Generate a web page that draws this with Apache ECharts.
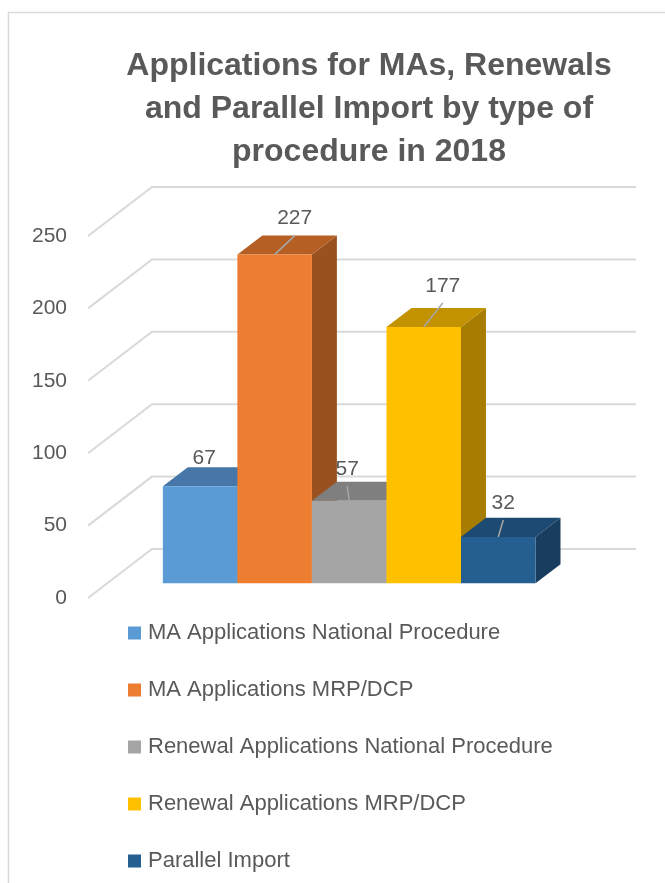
<!DOCTYPE html>
<html>
<head>
<meta charset="utf-8">
<script src="https://cdn.jsdelivr.net/npm/echarts@6/dist/echarts.min.js"></script>
<style>
  html, body { margin: 0; padding: 0; background: #fff; }
  #chart { width: 665px; height: 883px; }
</style>
</head>
<body>
<div id="chart"></div>
<script>
// data
const seriesNames = [
  'MA Applications National Procedure',
  'MA Applications MRP/DCP',
  'Renewal Applications National Procedure',
  'Renewal Applications MRP/DCP',
  'Parallel Import'
];
const values = [67, 227, 57, 177, 32];
const yTicks = [0, 50, 100, 150, 200, 250];
const yearLabel = ['2018'];

// look
const faceColors = ['#5b9bd5', '#ed7d31', '#a5a5a5', '#ffc000', '#255e91'];
const topColors = ['#4677a8', '#b65f25', '#7f7f7f', '#c29200', '#1d4a72'];
const sideColors = ['#3d6894', '#9a5120', '#6b6b6b', '#a67d00', '#183d5e'];
// where Excel left each data label, relative to the bar's front top centre
const labelShift = [[4, -28], [20, -36], [-2, -32], [19, -41], [5, -34]];

const FONT = 'Liberation Sans';
const TEXT = '#595959';
const GRID_LINE = '#d9d9d9';
const WALL = [64, -49];    // floor depth: front edge -> back wall
const BAR_FRONT = 0.3;     // bar front face, share of floor depth
const BAR_DEPTH = 0.39;    // bar depth, share of floor depth
const GROUP_SHARE = 0.77;  // share of the category band used by the bars

const chart = echarts.init(document.getElementById('chart'));

// back wall gridlines + the slanted lines on the left side wall
function renderWall(params, api) {
  const rect = params.coordSys;
  const y = api.coord([0, api.value(1)])[1];
  return {
    type: 'polyline',
    shape: {
      points: [
        [rect.x, y],
        [rect.x + WALL[0], y + WALL[1]],
        [rect.x + rect.width + WALL[0], y + WALL[1]]
      ]
    },
    style: { stroke: GRID_LINE, lineWidth: 2, fill: null }
  };
}

function renderBar(i) {
  return function (params, api) {
    const base = api.coord([api.value(0), 0]);
    const top = api.coord([api.value(0), api.value(1)]);
    const band = api.size([1, 0])[0];
    const groupW = band * GROUP_SHARE;
    const barW = groupW / values.length;
    const fx = WALL[0] * BAR_FRONT, fy = WALL[1] * BAR_FRONT;
    const dx = WALL[0] * BAR_DEPTH, dy = WALL[1] * BAR_DEPTH;
    const x0 = base[0] - groupW / 2 + i * barW + fx;
    const x1 = x0 + barW;
    const y0 = base[1] + fy;
    const y1 = top[1] + fy;
    const cx = (x0 + x1) / 2;
    const lx = cx + labelShift[i][0];
    const ly = y1 + labelShift[i][1];

    const children = [
      {
        type: 'polygon',
        shape: { points: [[x1, y1], [x1, y0], [x1 + dx, y0 + dy], [x1 + dx, y1 + dy]] },
        style: { fill: sideColors[i] }
      },
      {
        type: 'polygon',
        shape: { points: [[x0, y1], [x1, y1], [x1 + dx, y1 + dy], [x0 + dx, y1 + dy]] },
        style: { fill: topColors[i] }
      },
      {
        type: 'rect',
        shape: { x: x0, y: y1, width: barW, height: y0 - y1 },
        style: { fill: faceColors[i] }
      }
    ];
    if (-labelShift[i][1] > 30) {
      children.push({
        type: 'line',
        shape: { x1: lx, y1: ly + 17, x2: cx, y2: y1 },
        style: { stroke: '#a6a6a6', lineWidth: 1.5 }
      });
    }
    children.push({
      type: 'text',
      x: lx,
      y: ly,
      style: {
        text: String(api.value(1)),
        fill: TEXT,
        font: '21px "' + FONT + '"',
        align: 'center',
        verticalAlign: 'middle'
      }
    });
    return { type: 'group', children: children };
  };
}

const barSeries = seriesNames.map(function (name, i) {
  return {
    name: name,
    type: 'custom',
    coordinateSystem: 'cartesian2d',
    data: [[0, values[i]]],
    renderItem: renderBar(i),
    itemStyle: { color: faceColors[i] },
    z: 3 + i,
    silent: true
  };
});

chart.setOption({
  animation: false,
  backgroundColor: '#ffffff',
  title: {
    text: 'Applications for MAs, Renewals\nand Parallel Import by type of\nprocedure in 2018',
    left: 364,
    textAlign: 'center',
    top: 40,
    textStyle: {
      fontFamily: FONT,
      fontSize: 32,
      fontWeight: 'bold',
      color: TEXT,
      lineHeight: 43
    }
  },
  graphic: [{
    type: 'rect',
    shape: { x: 8.5, y: 12.5, width: 720, height: 900 },
    style: { fill: 'none', stroke: GRID_LINE, lineWidth: 1.5 },
    silent: true,
    z: -1
  }],
  legend: {
    data: seriesNames,
    orient: 'vertical',
    left: 128,
    top: 620,
    padding: 0,
    icon: 'rect',
    itemWidth: 13,
    itemHeight: 13,
    itemGap: 31,
    textStyle: {
      fontFamily: FONT,
      fontSize: 22,
      color: TEXT,
      lineHeight: 26,
      padding: [0, 0, 0, 2]
    }
  },
  grid: { left: 88, right: 93, top: 236, bottom: 285 },
  xAxis: {
    type: 'category',
    data: yearLabel,
    show: false
  },
  yAxis: {
    type: 'value',
    min: 0,
    max: 250,
    interval: 50,
    axisLine: { show: false },
    axisTick: { show: false },
    splitLine: { show: false },
    axisLabel: { margin: 21, fontSize: 21, color: TEXT, fontFamily: FONT }
  },
  series: [{
    type: 'custom',
    coordinateSystem: 'cartesian2d',
    data: yTicks.map(function (v) { return [0, v]; }),
    renderItem: renderWall,
    z: 1,
    silent: true
  }].concat(barSeries)
});
</script>
</body>
</html>
